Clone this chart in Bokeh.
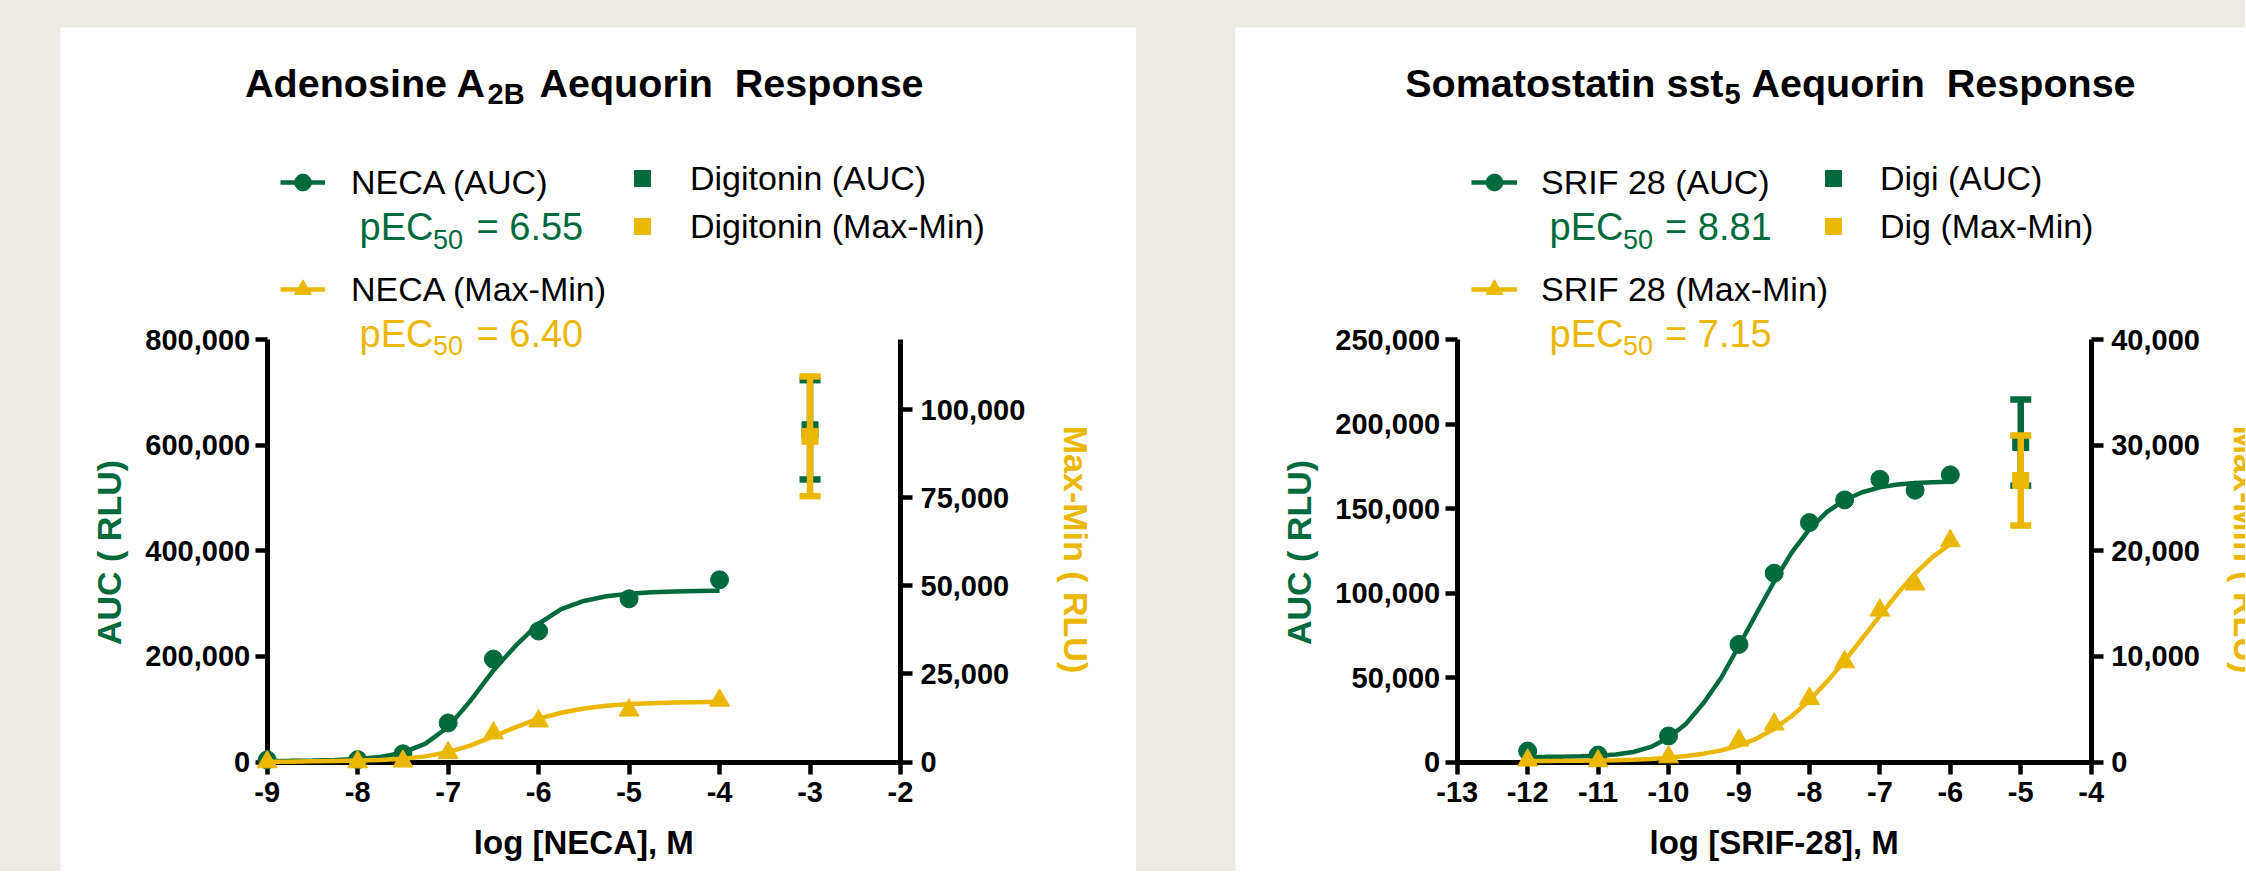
import math
from bokeh.plotting import figure
from bokeh.models import (Range1d, LinearAxis, FixedTicker, NumeralTickFormatter,
                          Label, Legend, LegendItem, Row)
from bokeh.embed import file_html
from bokeh.resources import INLINE

GREEN = "#006A3D"
GOLD = "#EBB700"
PAGE_BG = "#EDEAE3"
FONT = "Liberation Sans"

# ================= data : Adenosine A2B (NECA) =================
neca_log_conc = [-9.0, -8.0, -7.5, -7.0, -6.5, -6.0, -5.0, -4.0]
neca_auc = [4000, 4500, 15500, 74000, 195000, 248000, 309000, 345000]
neca_maxmin = [0, 0, 200, 2600, 8200, 11600, 14700, 17500]
neca_fit_log = [-9.0, -8.75, -8.5, -8.25, -8.0, -7.75, -7.5, -7.25, -7.0, -6.75, -6.5,
                -6.25, -6.0, -5.75, -5.5, -5.25, -5.0, -4.75, -4.5, -4.25, -4.0]
neca_auc_fit = [2000, 2200, 2700, 3700, 5600, 9600, 17800, 34700, 66200, 116700, 173500,
                220800, 261800, 289500, 305000, 313800, 318700, 321400, 323000, 323900, 324400]
neca_maxmin_fit = [100, 100, 200, 300, 400, 600, 950, 1600, 2800, 4700, 7300,
                   9900, 12300, 14000, 15200, 16000, 16500, 16700, 16900, 17000, 17100]
digitonin_log_conc = [-3.0]
digitonin_auc = [629000]
digitonin_auc_sem = [94000]
digitonin_maxmin = [92500]
digitonin_maxmin_sem = [17000]
a2b_x_ticks = [-9, -8, -7, -6, -5, -4, -3, -2]
a2b_auc_ticks = [0, 200000, 400000, 600000, 800000]
a2b_mm_ticks = [0, 25000, 50000, 75000, 100000]

# ================= data : Somatostatin sst5 (SRIF-28) =================
srif_log_conc = [-12.0, -11.0, -10.0, -9.0, -8.5, -8.0, -7.5, -7.0, -6.5, -6.0]
srif_auc = [6500, 4100, 15400, 69600, 111700, 141700, 155100, 167300, 160800, 169900]
srif_maxmin = [160, 100, 470, 2050, 3570, 6000, 9470, 14360, 16830, 20930]
srif_fit_log = [-12.0, -11.75, -11.5, -11.25, -11.0, -10.75, -10.5, -10.25, -10.0, -9.75,
                -9.5, -9.25, -9.0, -8.75, -8.5, -8.25, -8.0, -7.75, -7.5, -7.25, -7.0,
                -6.75, -6.5, -6.25, -6.0]
srif_auc_fit = [3000, 3050, 3150, 3350, 3700, 4400, 5900, 8900, 14400, 22700, 35100, 50000,
                68800, 88000, 106800, 124000, 137800, 148000, 155000, 159600, 162500,
                164200, 165100, 165600, 165900]
srif_maxmin_fit = [90, 100, 110, 125, 145, 175, 220, 290, 400, 560, 790, 1100, 1560, 2220,
                   3140, 4350, 5840, 7610, 9570, 11710, 13830, 15940, 17840, 19420, 20620]
digi_log_conc = [-5.0]
digi_auc = [189000]
digi_auc_sem = [25500]
digi_maxmin = [26650]
digi_maxmin_sem = [4260]
sst5_x_ticks = [-13, -12, -11, -10, -9, -8, -7, -6, -5, -4]
sst5_auc_ticks = [0, 50000, 100000, 150000, 200000, 250000]
sst5_mm_ticks = [0, 10000, 20000, 30000, 40000]


def style_axis(ax, standoff):
    ax.axis_line_width = 5
    ax.axis_line_color = "black"
    ax.major_tick_line_width = 4.5
    ax.major_tick_line_color = "black"
    ax.major_tick_out = 12
    ax.major_tick_in = 0
    ax.minor_tick_out = 0
    ax.minor_tick_in = 0
    ax.major_label_text_font = FONT
    ax.major_label_text_font_size = "29px"
    ax.major_label_text_font_style = "bold"
    ax.major_label_text_color = "black"
    ax.major_label_standoff = standoff


def build(cfg, data, texts):
    ox, oy = cfg["origin"]
    W, H = cfg["size"]
    (xa, xa_px), (xb, xb_px) = cfg["x_anchor"]
    y0_px, ytop_px = cfg["y_px"]
    ymax, rmax = cfg["auc_max"], cfg["mm_max"]
    kx = (xb_px - xa_px) / (xb - xa)
    ky = (y0_px - ytop_px) / ymax

    def dx(px):
        return xa + (px - xa_px) / kx

    def dy(py):
        return (y0_px - py) / ky

    # the plotting frame fills the whole white panel
    p = figure(width=W, height=H, output_backend="svg", toolbar_location=None,
               x_range=Range1d(dx(ox), dx(ox + W)), y_range=Range1d(dy(oy + H), dy(oy)),
               min_border=0, min_border_left=0, min_border_right=0, min_border_top=0,
               min_border_bottom=0, background_fill_color="white",
               border_fill_color="white", outline_line_color=None)
    rs = rmax / ymax
    p.extra_y_ranges = {"mm": Range1d(dy(oy + H) * rs, dy(oy) * rs)}
    p.xgrid.visible = False
    p.ygrid.visible = False

    xt, at, mt = data["x_ticks"], data["auc_ticks"], data["mm_ticks"]
    xaxis = p.xaxis[0]
    xaxis.ticker = FixedTicker(ticks=xt)
    xaxis.major_label_overrides = {t: str(t) for t in xt}
    xaxis.fixed_location = 0
    xaxis.bounds = (xt[0], xt[-1])
    style_axis(xaxis, 8)

    yaxis = p.yaxis[0]
    yaxis.ticker = FixedTicker(ticks=at)
    yaxis.formatter = NumeralTickFormatter(format="0,0")
    yaxis.fixed_location = xt[0]
    yaxis.bounds = (0, ymax)
    style_axis(yaxis, 5)

    raxis = LinearAxis(y_range_name="mm", ticker=FixedTicker(ticks=mt),
                       formatter=NumeralTickFormatter(format="0,0"),
                       fixed_location=xt[-1], bounds=(0, rmax))
    style_axis(raxis, 8)
    p.add_layout(raxis, "right")

    # curves and points
    auc_curve = p.line(data["fit_x"], data["fit_auc"], line_color=GREEN, line_width=4.5,
                       level="overlay")
    auc_pts = p.scatter(data["x"], data["auc"], marker="circle", size=18,
                        fill_color=GREEN, line_color=GREEN, level="overlay")
    mm_curve = p.line(data["fit_x"], data["fit_mm"], y_range_name="mm", line_color=GOLD,
                      line_width=4.5, level="overlay")
    mm_pts = p.scatter(data["x"], data["mm"], y_range_name="mm", marker="triangle", size=20,
                       fill_color=GOLD, line_color=GOLD, level="overlay")

    # control (mean +/- SEM)
    cx = data["cx"]
    a_hi = [m + e for m, e in zip(data["c_auc"], data["c_auc_err"])]
    a_lo = [m - e for m, e in zip(data["c_auc"], data["c_auc_err"])]
    m_hi = [m + e for m, e in zip(data["c_mm"], data["c_mm_err"])]
    m_lo = [m - e for m, e in zip(data["c_mm"], data["c_mm_err"])]
    p.segment(x0=cx, y0=a_lo, x1=cx, y1=a_hi, line_color=GREEN, line_width=6.5, level="overlay")
    p.scatter(cx, a_hi, marker="dash", size=21, line_color=GREEN, line_width=6.5, level="overlay")
    p.scatter(cx, a_lo, marker="dash", size=21, line_color=GREEN, line_width=6.5, level="overlay")
    c_auc_pt = p.scatter(cx, data["c_auc"], marker="square", size=16, fill_color=GREEN,
                         line_color=GREEN, level="overlay")
    p.segment(x0=cx, y0=m_lo, x1=cx, y1=m_hi, y_range_name="mm", line_color=GOLD,
              line_width=6.5, level="overlay")
    p.scatter(cx, m_hi, y_range_name="mm", marker="dash", size=21, line_color=GOLD,
              line_width=6.5, level="overlay")
    p.scatter(cx, m_lo, y_range_name="mm", marker="dash", size=21, line_color=GOLD,
              line_width=6.5, level="overlay")
    c_mm_pt = p.scatter(cx, data["c_mm"], y_range_name="mm", marker="square", size=16,
                        fill_color=GOLD, line_color=GOLD, level="overlay")

    def label(text, px, py, size, color="black", bold=False, align="left", angle=0.0):
        # py is the vertical centre of the capitals
        p.add_layout(Label(x=dx(px), y=dy(py), text=text, text_font=FONT,
                           text_font_size=f"{size}px",
                           text_font_style="bold" if bold else "normal",
                           text_color=color, text_align=align, text_baseline="middle",
                           angle=angle))

    def legend(items, left_px, top_px, gw, gh, spacing, standoff):
        n = len(items)
        bottom_px = top_px + n * gh + (n - 1) * spacing
        lg = Legend(items=items, location=(left_px - ox, (oy + H) - bottom_px),
                    orientation="vertical", glyph_width=gw, glyph_height=gh,
                    label_height=gh, spacing=spacing, padding=0, margin=0,
                    label_standoff=standoff, border_line_color=None,
                    background_fill_alpha=0, label_text_font=FONT,
                    label_text_font_size="34px", label_text_color="black",
                    label_text_baseline="middle")
        p.add_layout(lg)

    T = texts
    legend([LegendItem(label=T["agonist"][0], renderers=[auc_curve, auc_pts]),
            LegendItem(label=T["agonist"][1], renderers=[mm_curve, mm_pts])],
           T["leg1_left"], 161, T["leg1_gw"], 42, 65, T["leg1_standoff"])
    legend([LegendItem(label=T["control"][0], renderers=[c_auc_pt]),
            LegendItem(label=T["control"][1], renderers=[c_mm_pt])],
           T["leg2_left"], 158, 40, 40, 8, T["leg2_standoff"])

    # pEC50 annotations (main text joined to the subscript)
    px_join, px_eq = T["pec_x"]
    for (val, col, mid) in [(T["pec"][0], GREEN, 226.5), (T["pec"][1], GOLD, 333.3)]:
        label("pEC", px_join + 0.5, mid, 38, col, align="right")
        label("50", px_join, mid + 12, 27, col)
        label("= " + val, px_eq, mid, 38, col)

    # title (main text joined to the subscript)
    t_join, t_rest = T["title_x"]
    label(T["title"][0], t_join, 82.5, 39.5, bold=True, align="right")
    label(T["title"][1], t_join + 1, 93.5, 29, bold=True)
    label(T["title"][2], t_rest, 82.5, 39.5, bold=True)

    # axis titles
    label(T["xlabel"], (xa_px + xb_px) / 2, 841.5, 33, bold=True, align="center")
    label("AUC ( RLU)", T["ylab_x"], 552, 34, color=GREEN, bold=True, align="center",
          angle=math.pi / 2)
    label("Max-Min ( RLU)", T["rlab_x"], 549, 34, color=GOLD, bold=True, align="center",
          angle=-math.pi / 2)
    return p


p1 = build(
    dict(origin=(60, 27), size=(1076, 844),
         x_anchor=((-9, 266.7), (-2, 900.0)), y_px=(761.5, 339.0),
         auc_max=800000, mm_max=120000),
    dict(x=neca_log_conc, auc=neca_auc, mm=neca_maxmin, fit_x=neca_fit_log,
         fit_auc=neca_auc_fit, fit_mm=neca_maxmin_fit, cx=digitonin_log_conc,
         c_auc=digitonin_auc, c_auc_err=digitonin_auc_sem, c_mm=digitonin_maxmin,
         c_mm_err=digitonin_maxmin_sem, x_ticks=a2b_x_ticks, auc_ticks=a2b_auc_ticks,
         mm_ticks=a2b_mm_ticks),
    dict(agonist=["NECA (AUC)", "NECA (Max-Min)"],
         control=["Digitonin (AUC)", "Digitonin (Max-Min)"],
         leg1_left=280, leg1_gw=45, leg1_standoff=26, leg2_left=622, leg2_standoff=28,
         pec=["6.55", "6.40"], pec_x=(432.5, 476),
         title=["Adenosine A", "2B", "Aequorin \u00a0Response"], title_x=(486, 539),
         xlabel="log [NECA], M", ylab_x=108, rlab_x=1075))

p2 = build(
    dict(origin=(1235, 27), size=(1010, 844),
         x_anchor=((-13, 1456.7), (-4, 2090.7)), y_px=(761.5, 339.0),
         auc_max=250000, mm_max=40000),
    dict(x=srif_log_conc, auc=srif_auc, mm=srif_maxmin, fit_x=srif_fit_log,
         fit_auc=srif_auc_fit, fit_mm=srif_maxmin_fit, cx=digi_log_conc,
         c_auc=digi_auc, c_auc_err=digi_auc_sem, c_mm=digi_maxmin,
         c_mm_err=digi_maxmin_sem, x_ticks=sst5_x_ticks, auc_ticks=sst5_auc_ticks,
         mm_ticks=sst5_mm_ticks),
    dict(agonist=["SRIF 28 (AUC)", "SRIF 28 (Max-Min)"],
         control=["Digi (AUC)", "Dig (Max-Min)"],
         leg1_left=1471, leg1_gw=46, leg1_standoff=24, leg2_left=1813, leg2_standoff=27,
         pec=["8.81", "7.15"], pec_x=(1622.5, 1664.5),
         title=["Somatostatin sst", "5", "Aequorin \u00a0Response"], title_x=(1723, 1751),
         xlabel="log [SRIF-28], M", ylab_x=1298, rlab_x=2245))

p1.margin = (27, 0, 0, 60)
p2.margin = (27, 0, 0, 99)
page = Row(children=[p1, p2], styles={"background-color": PAGE_BG})

open("out.html", "w").write(file_html(page, INLINE))
